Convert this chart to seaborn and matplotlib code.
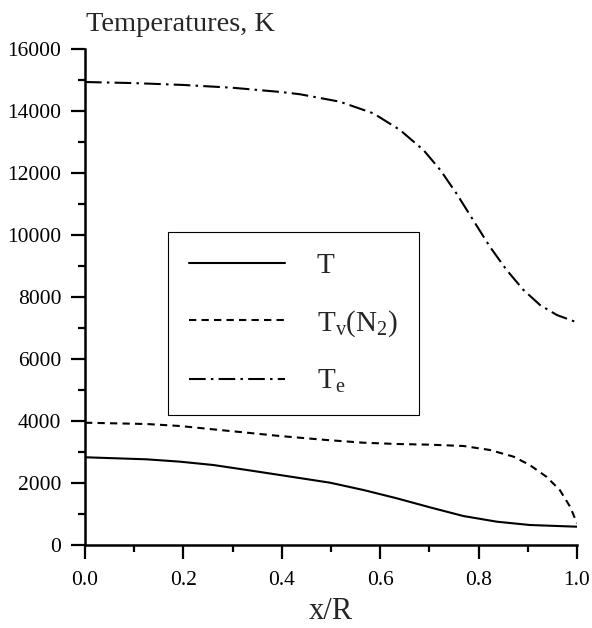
import numpy as np
import pandas as pd
import matplotlib
matplotlib.use("Agg")
import matplotlib.pyplot as plt
from matplotlib.ticker import MultipleLocator
import seaborn as sns

# ---- data ----
x_T = [0.0, 0.125, 0.193, 0.261, 0.329, 0.396, 0.498, 0.566, 0.634, 0.701,
       0.769, 0.837, 0.904, 1.0]
T = [2830, 2764, 2688, 2580, 2420, 2258, 2010, 1774, 1505, 1215,
     935, 752, 645, 590]

x_Tv = [0.0, 0.125, 0.193, 0.261, 0.329, 0.396, 0.491, 0.566, 0.634, 0.701,
        0.769, 0.823, 0.871, 0.904, 0.938, 0.965, 0.986, 1.0]
Tv = [3945, 3903, 3839, 3730, 3623, 3516, 3387, 3300, 3258, 3236,
      3194, 3065, 2850, 2580, 2200, 1774, 1235, 700]

x_Te = [0.0, 0.1, 0.2, 0.3, 0.4, 0.437, 0.518, 0.586, 0.640, 0.688, 0.722,
        0.755, 0.789, 0.823, 0.857, 0.891, 0.925, 0.959, 1.0]
Te = [14935, 14900, 14840, 14750, 14610, 14540, 14300, 13925, 13390, 12740, 12100,
      11340, 10480, 9620, 8870, 8230, 7740, 7420, 7180]

labels = ["T", r"$\mathrm{T_v(N_2)}$", r"$\mathrm{T_e}$"]
y_ticks = [0, 2000, 4000, 6000, 8000, 10000, 12000, 14000, 16000]
x_ticks = [0.0, 0.2, 0.4, 0.6, 0.8, 1.0]

sns.set_theme(style="ticks")
plt.rcParams["font.family"] = ["Liberation Serif", "DejaVu Serif"]
plt.rcParams["mathtext.fontset"] = "custom"
plt.rcParams["mathtext.rm"] = "Liberation Serif"
plt.rcParams["mathtext.it"] = "Liberation Serif:italic"

fig = plt.figure(figsize=(5.92, 6.28), dpi=100)
ax = fig.add_axes([85 / 592, 1 - 545 / 628, 492 / 592, 496 / 628])

df_T = pd.DataFrame({"x": x_T, "y": T})
df_Tv = pd.DataFrame({"x": x_Tv, "y": Tv})
df_Te = pd.DataFrame({"x": x_Te, "y": Te})

lw = 1.5
sns.lineplot(data=df_T, x="x", y="y", ax=ax, color="black", lw=lw, label=labels[0])
sns.lineplot(data=df_Tv, x="x", y="y", ax=ax, color="black", lw=lw,
             label=labels[1], linestyle=(0, (3.5, 2.5)))
sns.lineplot(data=df_Te, x="x", y="y", ax=ax, color="black", lw=lw,
             label=labels[2], linestyle=(0, (8, 2.5, 1.2, 2.5)))

ax.set_xlim(0, 1.0)
ax.set_ylim(0, 16000)
ax.set_xticks(x_ticks)
ax.set_xticklabels([f"{v:.1f}" for v in x_ticks])
ax.set_yticks(y_ticks)
ax.set_yticklabels([str(v) for v in y_ticks])
ax.xaxis.set_minor_locator(MultipleLocator(0.1))
ax.yaxis.set_minor_locator(MultipleLocator(1000))

for s in ["top", "right"]:
    ax.spines[s].set_visible(False)
for s in ["left", "bottom"]:
    ax.spines[s].set_linewidth(1.8)
    ax.spines[s].set_color("black")

ax.tick_params(axis="both", which="major", direction="out", length=10, width=1.6,
               colors="black", labelsize=15.5)
ax.tick_params(axis="both", which="minor", direction="out", length=5, width=1.6,
               colors="black")
ax.tick_params(axis="x", which="major", pad=9)
ax.tick_params(axis="y", which="major", pad=7)

ax.set_xlabel("x/R", fontsize=22, labelpad=5)
ax.set_ylabel("")
ax.grid(False)

fig.text(86 / 592, 1 - 31 / 628, "Temperatures, K", fontsize=20.5, ha="left",
         va="baseline")

leg = ax.legend(loc="upper left", bbox_to_anchor=(0.169, 0.631), fontsize=21,
                handlelength=3.3, handletextpad=1.1, labelspacing=1.0,
                borderpad=0.7, borderaxespad=0, frameon=True, fancybox=False,
                framealpha=1)
leg.get_frame().set_edgecolor("black")
leg.get_frame().set_linewidth(0.8)

fig.savefig("out.png", dpi=100)
